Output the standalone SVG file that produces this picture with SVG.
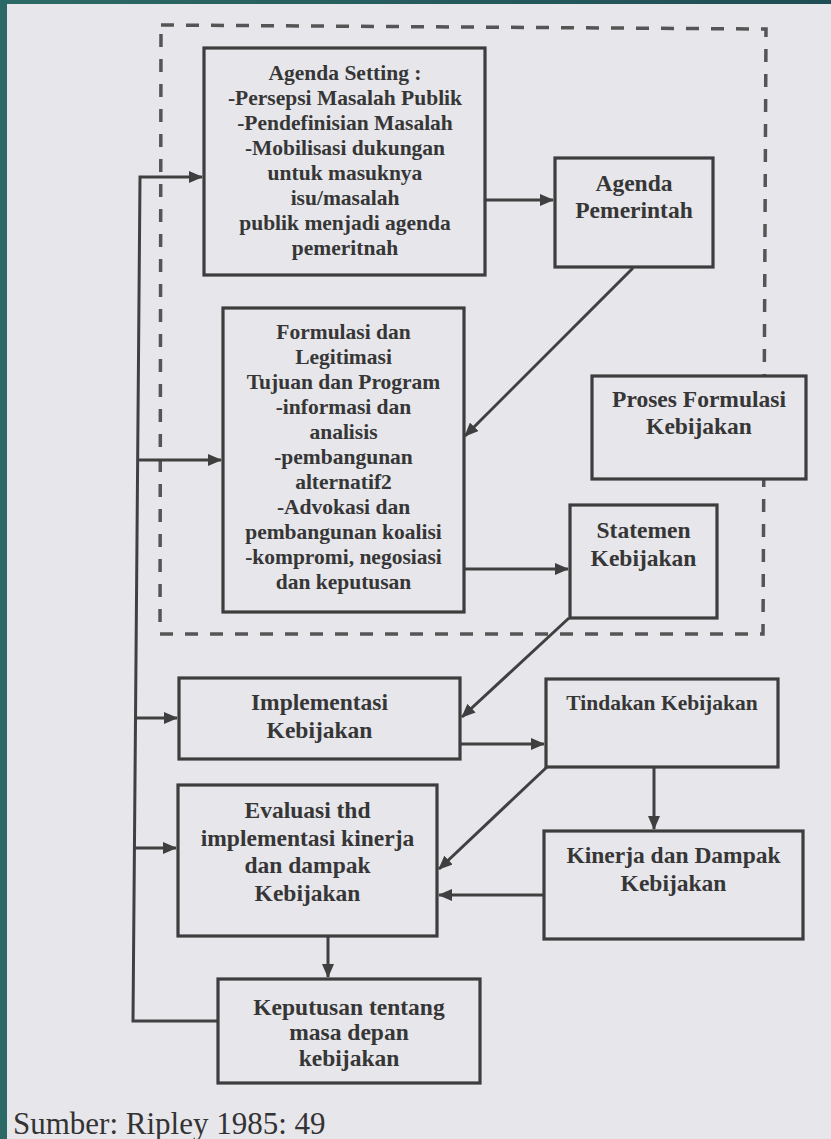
<svg xmlns="http://www.w3.org/2000/svg" width="831" height="1139" viewBox="0 0 831 1139">
<defs>
<linearGradient id="topband" x1="0" y1="0" x2="1" y2="0">
<stop offset="0" stop-color="#2d6a66"/>
<stop offset="1" stop-color="#1f4d54"/>
</linearGradient>
<marker id="ah" markerUnits="userSpaceOnUse" markerWidth="14" markerHeight="12" refX="13" refY="6" orient="auto">
<path d="M0,0 L14,6 L0,12 Z" fill="#3f3f3f"/>
</marker>
</defs>
<style>
.box{fill:#e7e6eb;stroke:#3d3d3d;stroke-width:3.2}
.t{font-family:"Liberation Serif","Times New Roman",serif;font-weight:bold;fill:#363636;text-anchor:middle}
.s{font-size:21.5px}
.l{font-size:23.5px}
.c{fill:none;stroke:#404040;stroke-width:3}
.dash{fill:none;stroke:#555;stroke-width:3.5;stroke-dasharray:13 12}
</style>
<rect x="0" y="0" width="831" height="1139" fill="#e7e6eb"/>
<rect x="0" y="0" width="831" height="4" fill="url(#topband)"/>
<rect x="0" y="0" width="7" height="1139" fill="#2c6865"/>

<g id="boundary">
<path class="dash" d="M161,25 L766,29 L763,634 L160,634 Z"/>
</g>

<g id="connectors">
<path class="c" d="M218,1021 H133 L140,177 H202" marker-end="url(#ah)"/>
<path class="c" d="M137.7,460 H221" marker-end="url(#ah)"/>
<path class="c" d="M135.5,718 H177" marker-end="url(#ah)"/>
<path class="c" d="M134.4,848 H176" marker-end="url(#ah)"/>
<path class="c" d="M485,200 H553" marker-end="url(#ah)"/>
<path class="c" d="M633,268 L465,436" marker-end="url(#ah)"/>
<path class="c" d="M464,569 H568" marker-end="url(#ah)"/>
<path class="c" d="M569,618 L462,717" marker-end="url(#ah)"/>
<path class="c" d="M460,744 H544" marker-end="url(#ah)"/>
<path class="c" d="M548,766 L439,869" marker-end="url(#ah)"/>
<path class="c" d="M654,767 V829" marker-end="url(#ah)"/>
<path class="c" d="M544,895 H439" marker-end="url(#ah)"/>
<path class="c" d="M328,936 V977" marker-end="url(#ah)"/>
</g>

<g id="agenda-setting">
<rect class="box" x="204" y="48" width="281" height="227"/>
<text class="t s" x="345" y="80">Agenda Setting :</text>
<text class="t s" x="345" y="105">-Persepsi Masalah Publik</text>
<text class="t s" x="345" y="130">-Pendefinisian Masalah</text>
<text class="t s" x="345" y="155">-Mobilisasi dukungan</text>
<text class="t s" x="345" y="180">untuk masuknya</text>
<text class="t s" x="345" y="205">isu/masalah</text>
<text class="t s" x="345" y="230">publik menjadi agenda</text>
<text class="t s" x="345" y="255">pemeritnah</text>
</g>

<g id="agenda-pemerintah">
<rect class="box" x="555" y="158" width="158" height="109"/>
<text class="t l" x="634" y="191">Agenda</text>
<text class="t l" x="634" y="218">Pemerintah</text>
</g>

<g id="formulasi">
<rect class="box" x="223" y="308" width="241" height="304"/>
<text class="t s" x="343.5" y="339">Formulasi dan</text>
<text class="t s" x="343.5" y="364">Legitimasi</text>
<text class="t s" x="343.5" y="389">Tujuan dan Program</text>
<text class="t s" x="343.5" y="414">-informasi dan</text>
<text class="t s" x="343.5" y="439">analisis</text>
<text class="t s" x="343.5" y="464">-pembangunan</text>
<text class="t s" x="343.5" y="489">alternatif2</text>
<text class="t s" x="343.5" y="514">-Advokasi dan</text>
<text class="t s" x="343.5" y="539">pembangunan koalisi</text>
<text class="t s" x="343.5" y="564">-kompromi, negosiasi</text>
<text class="t s" x="343.5" y="589">dan keputusan</text>
</g>

<g id="proses-formulasi">
<rect class="box" x="592" y="376" width="214" height="103"/>
<text class="t l" x="699" y="407">Proses Formulasi</text>
<text class="t l" x="699" y="434">Kebijakan</text>
</g>

<g id="statemen">
<rect class="box" x="570" y="505" width="147" height="113"/>
<text class="t l" x="643.5" y="538">Statemen</text>
<text class="t l" x="643.5" y="566">Kebijakan</text>
</g>

<g id="implementasi">
<rect class="box" x="179" y="678" width="281" height="81"/>
<text class="t l" x="319.5" y="710">Implementasi</text>
<text class="t l" x="319.5" y="738">Kebijakan</text>
</g>

<g id="tindakan">
<rect class="box" x="546" y="679" width="232" height="88"/>
<text class="t s" x="662" y="710">Tindakan Kebijakan</text>
</g>

<g id="evaluasi">
<rect class="box" x="178" y="785" width="259" height="151"/>
<text class="t l" x="307.5" y="818">Evaluasi thd</text>
<text class="t l" x="307.5" y="846">implementasi kinerja</text>
<text class="t l" x="307.5" y="873">dan dampak</text>
<text class="t l" x="307.5" y="901">Kebijakan</text>
</g>

<g id="kinerja">
<rect class="box" x="544" y="831" width="259" height="108"/>
<text class="t l" x="673.5" y="863">Kinerja dan Dampak</text>
<text class="t l" x="673.5" y="891">Kebijakan</text>
</g>

<g id="keputusan">
<rect class="box" x="218" y="979" width="262" height="104"/>
<text class="t l" x="349" y="1015">Keputusan tentang</text>
<text class="t l" x="349" y="1040">masa depan</text>
<text class="t l" x="349" y="1066">kebijakan</text>
</g>

<text x="13" y="1134" font-family="'Liberation Serif','Times New Roman',serif" font-size="31" fill="#333">Sumber: Ripley 1985: 49</text>
</svg>
